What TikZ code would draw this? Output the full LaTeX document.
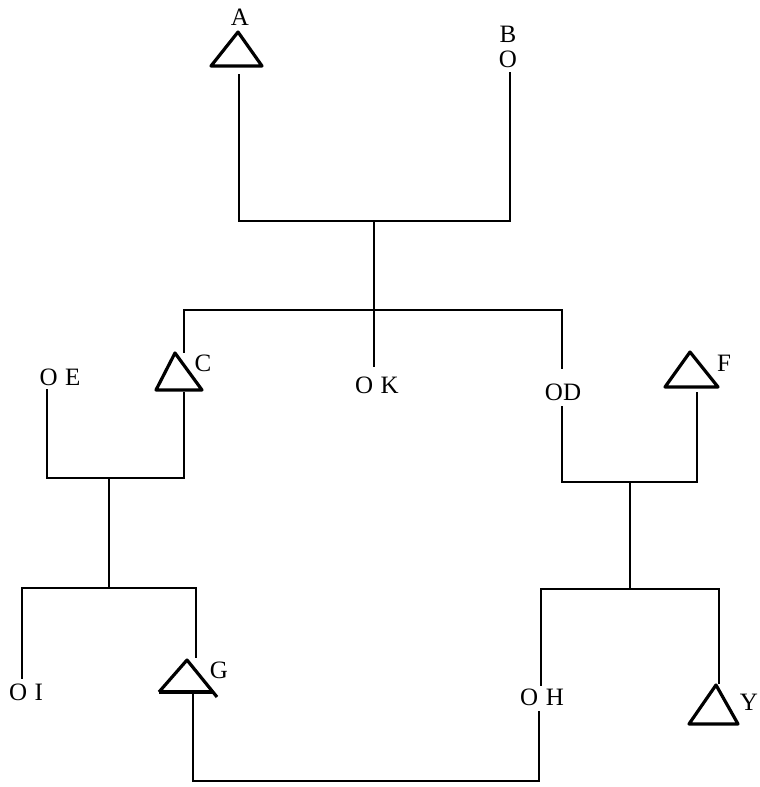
\documentclass[tikz,border=0pt]{standalone}
\usepackage{fontspec}
\setmainfont{Liberation Serif}
\begin{document}
\begin{tikzpicture}[x=1pt,y=-1pt,
  ln/.style={line width=2.8pt,line cap=rect},
  tri/.style={line width=3.2pt,line join=round},
  lbl/.style={inner sep=0pt,font=\fontsize{25}{28}\selectfont}]
\useasboundingbox (0,0) rectangle (760,787);
% labels
\node[lbl] (lA) at (240,17) {A};
\node[lbl] (lB) at (508,34) {B};
\node[lbl] (oB) at (508,59) {O};
\node[lbl] (lC) at (203,363) {C};
\node[lbl] (lE) at (60,377) {O\hspace{0.3em}E};
\node[lbl] (lK) at (377,385) {O\hspace{0.3em}K};
\node[lbl] (lD) at (563,392) {OD};
\node[lbl] (lF) at (724,363) {F};
\node[lbl] (lI) at (26,692) {O\hspace{0.3em}I};
\node[lbl] (lG) at (219,670) {G};
\node[lbl] (lH) at (542,697) {O\hspace{0.3em}H};
\node[lbl] (lY) at (749,702) {Y};
% triangles
\draw[tri] (211,66) -- (238,32) -- (262,66) -- cycle;
\draw[tri] (156,390) -- (175,353) -- (202,390) -- cycle;
\draw[tri] (665,387) -- (690,352) -- (718,387) -- cycle;
\draw[tri] (159,692) -- (187,660) -- (217,697);
\draw[tri] (159,692) -- (213,692);
\draw[tri] (689,724) -- (716,685) -- (738,724) -- cycle;
% junction coordinates
\coordinate (a1) at (239,75);
\coordinate (a2) at (239,221);
\coordinate (b1) at (510,73);
\coordinate (b2) at (510,221);
\coordinate (k0) at (374,221);
\coordinate (k1) at (374,366);
\coordinate (m) at (374,310);
\coordinate (lc) at (184,310);
\coordinate (rc) at (562,310);
\coordinate (c1) at (184,352);
\coordinate (c2) at (184,393);
\coordinate (c3) at (184,478);
\coordinate (e1) at (47,390);
\coordinate (e2) at (47,478);
\coordinate (lm1) at (109,478);
\coordinate (lm2) at (109,588);
\coordinate (i0) at (22,588);
\coordinate (i1) at (22,678);
\coordinate (g0) at (196,588);
\coordinate (g1) at (196,657);
\coordinate (g2) at (193,692);
\coordinate (g3) at (193,781);
\coordinate (d1) at (562,368);
\coordinate (d2) at (562,407);
\coordinate (d3) at (562,482);
\coordinate (f1) at (697,393);
\coordinate (f2) at (697,482);
\coordinate (rm1) at (630,482);
\coordinate (rm2) at (630,589);
\coordinate (h0) at (541,589);
\coordinate (h1) at (541,685);
\coordinate (h2) at (539,712);
\coordinate (h3) at (539,781);
\coordinate (y0) at (719,589);
\coordinate (y1) at (719,683);
% lines
\draw[ln] (a1) -- (a2) -- (b2) -- (b1);
\draw[ln] (k0) -- (k1);
\draw[ln] (c1) -- (lc) -- (rc) -- (d1);
\draw[ln] (c2) -- (c3) -- (e2) -- (e1);
\draw[ln] (lm1) -- (lm2);
\draw[ln] (i1) -- (i0) -- (g0) -- (g1);
\draw[ln] (g2) -- (g3) -- (h3) -- (h2);
\draw[ln] (d2) -- (d3) -- (f2) -- (f1);
\draw[ln] (rm1) -- (rm2);
\draw[ln] (h1) -- (h0) -- (y0) -- (y1);
\end{tikzpicture}
\end{document}
